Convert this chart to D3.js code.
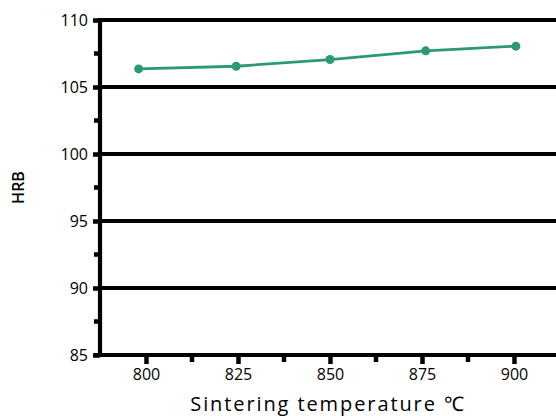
<!DOCTYPE html>
<html>
<head>
<meta charset="utf-8">
<script src="https://cdn.jsdelivr.net/npm/d3@7"></script>
<style>
  html, body { margin: 0; padding: 0; background: #fff; }
  svg { display: block; }
  text { font-family: "Open Sans", "Noto Sans", sans-serif; fill: #000; }
</style>
</head>
<body>
<svg id="chart" width="556" height="416"></svg>
<script>
// Sintering temperature (°C) vs. Rockwell B hardness
const temperatures = [798, 824.5, 850, 876, 900.5];
const hardness = [106.35, 106.55, 107.05, 107.7, 108.05];
const xTicks = [800, 825, 850, 875, 900];
const xMinorTicks = [812.5, 837.5, 862.5, 887.5];
const yTicks = [85, 90, 95, 100, 105, 110];
const yMinorTicks = [87.5, 92.5, 97.5, 102.5, 107.5];
const xTitle = "Sintering temperature ℃";
const yTitle = "HRB";

const svg = d3.select("#chart");
const plotLeft = 100, plotRight = 560, plotTop = 20, plotBottom = 355;
const lineColor = "#2b9a73";

const x = d3.scaleLinear().domain([787.5, 912.5]).range([plotLeft, plotRight]);
const y = d3.scaleLinear().domain([85, 110]).range([plotBottom, plotTop]);

// horizontal grid lines at major y values
svg.append("g")
  .selectAll("line")
  .data(yTicks.filter(d => d !== 85))
  .join("line")
  .attr("x1", plotLeft).attr("x2", plotRight)
  .attr("y1", d => y(d)).attr("y2", d => y(d))
  .attr("stroke", "#000").attr("stroke-width", 4.2);

// y axis: major + minor ticks
const yAxis = svg.append("g").attr("transform", `translate(${plotLeft},0)`);
yAxis.call(d3.axisLeft(y).tickValues(yTicks).tickSize(7).tickPadding(5).tickFormat(d3.format("d")));
yAxis.append("g").selectAll("line")
  .data(yMinorTicks).join("line")
  .attr("x1", -6).attr("x2", 0)
  .attr("y1", d => y(d)).attr("y2", d => y(d))
  .attr("stroke", "#000").attr("stroke-width", 4.5);
yAxis.select(".domain").attr("stroke-width", 4.2).attr("d", `M0,${plotTop - 2}V${plotBottom + 2}`);
yAxis.selectAll(".tick line").attr("stroke-width", 4.5);
yAxis.selectAll(".tick text").attr("font-size", 16).attr("dy", "0.35em");

// x axis: major + minor ticks
const xAxis = svg.append("g").attr("transform", `translate(0,${plotBottom})`);
xAxis.call(d3.axisBottom(x).tickValues(xTicks).tickSize(9).tickPadding(5).tickFormat(d3.format("d")));
xAxis.append("g").selectAll("line")
  .data(xMinorTicks).join("line")
  .attr("x1", d => x(d)).attr("x2", d => x(d))
  .attr("y1", 0).attr("y2", 7)
  .attr("stroke", "#000").attr("stroke-width", 4.5);
xAxis.select(".domain").attr("stroke-width", 4.2).attr("d", `M${plotLeft - 6},0H${plotRight}`);
xAxis.selectAll(".tick line").attr("stroke-width", 4.5);
xAxis.selectAll(".tick text").attr("font-size", 16);

// axis titles
svg.append("text")
  .attr("x", 328).attr("y", 411)
  .attr("text-anchor", "middle")
  .attr("font-size", 20)
  .attr("letter-spacing", 1.9)
  .text(xTitle);

svg.append("text")
  .attr("transform", `translate(24,${(plotTop + plotBottom) / 2}) rotate(-90)`)
  .attr("text-anchor", "middle")
  .attr("font-size", 16)
  .attr("font-weight", 600)
  .text(yTitle);

// data line and markers
const pts = temperatures.map((t, i) => [t, hardness[i]]);
svg.append("path")
  .datum(pts)
  .attr("fill", "none")
  .attr("stroke", lineColor)
  .attr("stroke-width", 2.8)
  .attr("d", d3.line().x(d => x(d[0])).y(d => y(d[1])));

svg.append("g")
  .selectAll("circle")
  .data(pts)
  .join("circle")
  .attr("cx", d => x(d[0]))
  .attr("cy", d => y(d[1]))
  .attr("r", 4.5)
  .attr("fill", lineColor);
</script>
</body>
</html>
